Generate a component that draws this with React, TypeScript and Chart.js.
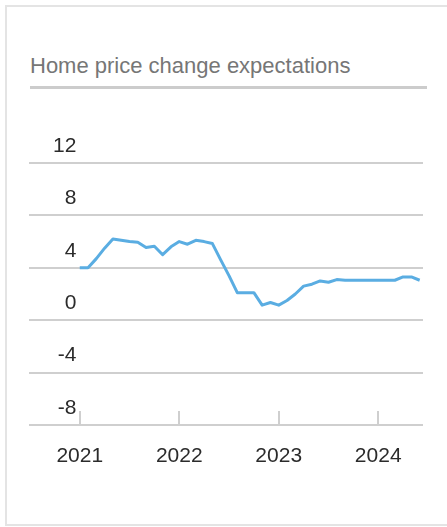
import React, { useEffect, useRef } from "react";
import { Chart, registerables } from "chart.js";

Chart.register(...registerables);

const chartTitle = "Home price change expectations";

const months = [
  "2021-01", "2021-02", "2021-03", "2021-04", "2021-05", "2021-06",
  "2021-07", "2021-08", "2021-09", "2021-10", "2021-11", "2021-12",
  "2022-01", "2022-02", "2022-03", "2022-04", "2022-05", "2022-06",
  "2022-07", "2022-08", "2022-09", "2022-10", "2022-11", "2022-12",
  "2023-01", "2023-02", "2023-03", "2023-04", "2023-05", "2023-06",
  "2023-07", "2023-08", "2023-09", "2023-10", "2023-11", "2023-12",
  "2024-01", "2024-02", "2024-03", "2024-04", "2024-05", "2024-06",
];

const expectations = [
  4.0, 4.0, 4.7, 5.5, 6.2, 6.1, 6.0, 5.95, 5.55, 5.65, 5.0, 5.6,
  6.0, 5.8, 6.1, 6.0, 5.85, 4.6, 3.4, 2.1, 2.1, 2.1, 1.15, 1.35,
  1.15, 1.5, 2.0, 2.6, 2.75, 3.0, 2.9, 3.1, 3.05, 3.05, 3.05, 3.05,
  3.05, 3.05, 3.05, 3.3, 3.3, 3.05,
];

const yearTicks = [2021, 2022, 2023, 2024];
const yTicks = [-8, -4, 0, 4, 8, 12];

const FONT = "'Liberation Sans', Arial, sans-serif";
const GRID = "#cfcfcf";

function monthToX(m: string): number {
  const [y, mo] = m.split("-").map(Number);
  return y + (mo - 1) / 12;
}

const innerTicks = {
  id: "innerTicks",
  beforeDatasetsDraw(chart: any) {
    const { ctx, chartArea, scales } = chart;
    const xs = scales.x;
    ctx.save();
    ctx.strokeStyle = GRID;
    ctx.lineWidth = 2;
    for (const v of yearTicks) {
      const px = Math.round(xs.getPixelForValue(v));
      ctx.beginPath();
      ctx.moveTo(px, chartArea.bottom);
      ctx.lineTo(px, chartArea.bottom - 14);
      ctx.stroke();
    }
    ctx.restore();
  },
};

export default function App() {
  const ref = useRef<HTMLCanvasElement | null>(null);

  useEffect(() => {
    if (!ref.current) return;
    const chart = new Chart(ref.current, {
      type: "line",
      data: {
        datasets: [
          {
            data: months.map((m, i) => ({ x: monthToX(m), y: expectations[i] })),
            borderColor: "#5aade2",
            borderWidth: 3,
            pointRadius: 0,
            tension: 0,
            fill: false,
            borderJoinStyle: "round",
          },
        ],
      },
      options: {
        animation: false,
        responsive: false,
        devicePixelRatio: 1,
        layout: { padding: { left: 29, right: 24, top: 163, bottom: 42 } },
        plugins: {
          legend: { display: false },
          tooltip: { enabled: false },
        },
        scales: {
          x: {
            type: "linear",
            min: 2020.49,
            max: 2024.45,
            afterBuildTicks: (s: any) => {
              s.ticks = yearTicks.map((v) => ({ value: v }));
            },
            afterFit: (s: any) => {
              s.height = 60;
            },
            grid: { display: false },
            border: { display: false },
            ticks: {
              callback: (v: any) => String(v),
              color: "#2b2b2b",
              padding: 11,
              maxRotation: 0,
              font: { family: FONT, size: 21 },
            },
          },
          y: {
            type: "linear",
            min: -8,
            max: 12,
            afterBuildTicks: (s: any) => {
              s.ticks = yTicks.map((v) => ({ value: v }));
            },
            afterFit: (s: any) => {
              s.width = 0;
            },
            grid: { color: GRID, lineWidth: 2, drawTicks: false },
            border: { display: false },
            ticks: {
              mirror: true,
              crossAlign: "far",
              padding: 24,
              labelOffset: -17,
              color: "#2b2b2b",
              font: { family: FONT, size: 21 },
            },
          },
        },
      },
      plugins: [innerTicks],
    } as any);
    return () => chart.destroy();
  }, []);

  return (
    <div
      style={{
        position: "fixed",
        left: 0,
        top: 0,
        width: 447,
        height: 527,
        overflow: "hidden",
        background: "#fff",
      }}
    >
      <div
        style={{
          position: "absolute",
          left: 5,
          top: 5,
          width: 460,
          height: 521,
          boxSizing: "border-box",
          border: "2px solid #e4e4e4",
        }}
      />
      <div
        style={{
          position: "absolute",
          left: 30,
          top: 54,
          width: 397,
          fontFamily: FONT,
          fontSize: 22,
          lineHeight: "24px",
          color: "#767676",
          whiteSpace: "nowrap",
          paddingBottom: 8,
          borderBottom: "3px solid #cccccc",
        }}
      >
        {chartTitle}
      </div>
      <canvas
        ref={ref}
        width={447}
        height={527}
        style={{ position: "absolute", left: 0, top: 0, display: "block" }}
      />
    </div>
  );
}
